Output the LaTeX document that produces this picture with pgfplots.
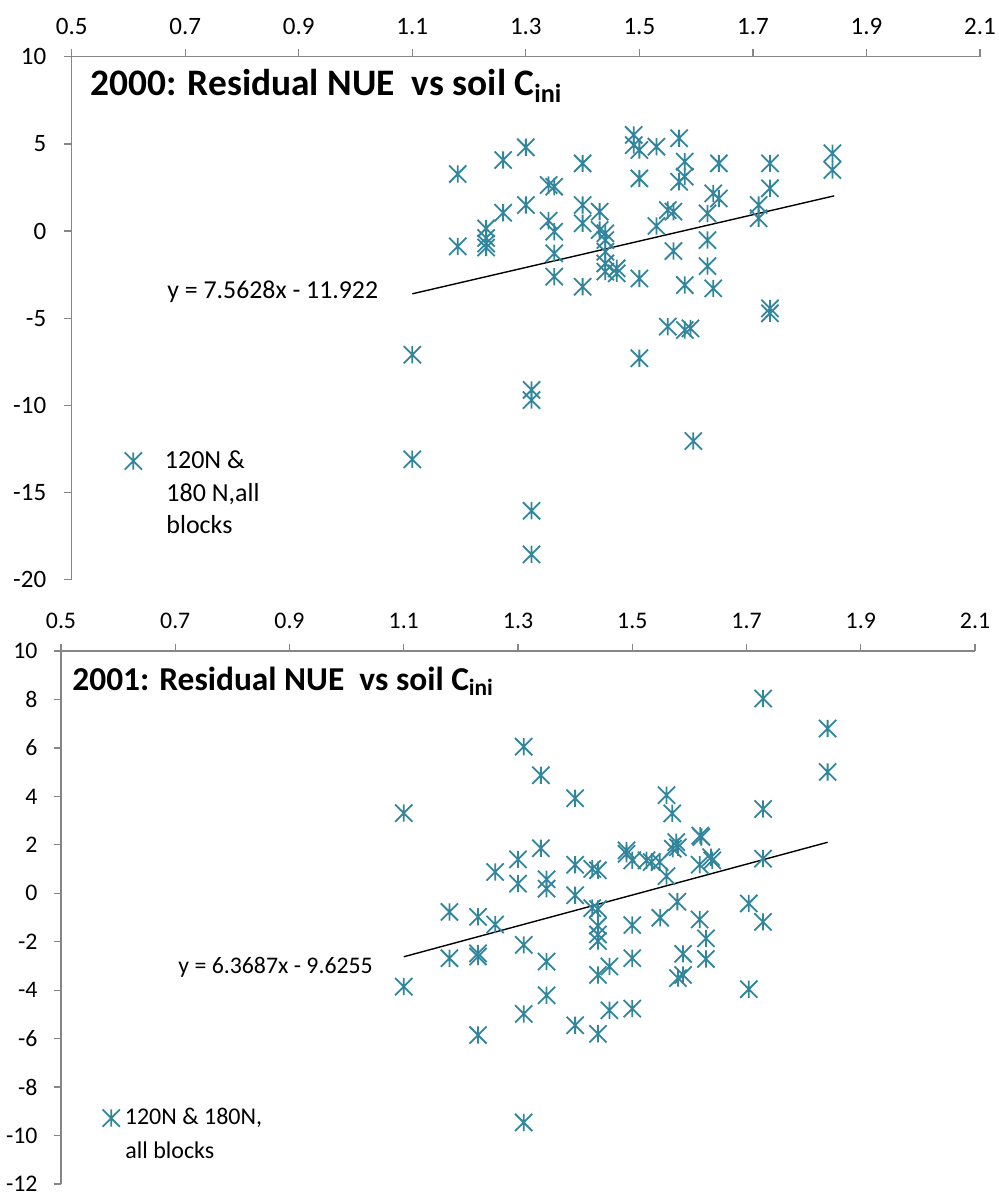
\documentclass[border=0pt]{standalone}
\usepackage{fontspec}
\setmainfont{Carlito}
\usepackage{pgfplots}
\pgfplotsset{compat=1.18}

\definecolor{axisgray}{RGB}{134,134,134}
\definecolor{markteal}{RGB}{49,133,156}

% Excel-style asterisk: an X crossed by a vertical bar
\pgfdeclareplotmark{xast}{%
  \pgfpathmoveto{\pgfqpoint{0pt}{\pgfplotmarksize}}%
  \pgfpathlineto{\pgfqpoint{0pt}{-\pgfplotmarksize}}%
  \pgfpathmoveto{\pgfqpoint{-\pgfplotmarksize}{\pgfplotmarksize}}%
  \pgfpathlineto{\pgfqpoint{\pgfplotmarksize}{-\pgfplotmarksize}}%
  \pgfpathmoveto{\pgfqpoint{-\pgfplotmarksize}{-\pgfplotmarksize}}%
  \pgfpathlineto{\pgfqpoint{\pgfplotmarksize}{\pgfplotmarksize}}%
  \pgfusepathqstroke}

\pgfplotsset{
  excel/.style={
    scale only axis,
    clip=false,
    axis x line*=top,
    axis y line*=left,
    axis line style={draw=axisgray, line width=0.65pt},
    tick style={draw=axisgray, line width=0.65pt},
    tick align=outside,
    major tick length=3.7pt,
    xmin=0.5, xmax=2.1,
    xtick={0.5,0.7,0.9,1.1,1.3,1.5,1.7,1.9,2.1},
    xticklabels={0.5,0.7,0.9,1.1,1.3,1.5,1.7,1.9,2.1},
    xticklabel style={yshift=4pt},
    /pgf/number format/assume math mode=true,
    legend style={draw=none, fill=none, inner sep=0pt, outer sep=0pt,
      nodes={inner sep=0pt}},
    legend image code/.code={%
      \draw[mark=xast, markteal, line width=0.9pt, mark size=4.3pt]
        plot coordinates {(0pt,0pt)};},
  },
  pts/.style={only marks, mark=xast, mark size=4.3pt,
    color=markteal, line width=0.9pt},
  trend/.style={black, line width=0.7pt, no marks},
}

\begin{document}
\begin{tikzpicture}
\path[use as bounding box] (0,0) rectangle (499pt,-598pt);

% ---------------- 2000 ----------------
\begin{axis}[excel,
  at={(35.85pt,-289.8pt)}, anchor=south west,
  width=454.15pt, height=261.45pt,
  ymin=-20, ymax=10,
  ytick={-20,-15,-10,-5,0,5,10},
  yticklabels={-20,-15,-10,-5,0,5,10},
  yticklabel style={xshift=-5.5pt},
  ticklabel style={font=\fontsize{12.5}{15}\selectfont},
  legend style={at={(0.0584,0.2268)}, anchor=west,
    font=\fontsize{13}{15}\selectfont},
]
\addplot[pts] coordinates {
 (1.10,-7.1) (1.10,-13.1)
 (1.18,3.27) (1.18,-0.88)
 (1.23,0.15) (1.23,-0.40) (1.23,-0.72) (1.23,-0.95)
 (1.26,4.07) (1.26,1.05)
 (1.30,4.80) (1.30,1.49)
 (1.31,-9.12) (1.31,-9.70) (1.31,-16.05) (1.31,-18.55)
 (1.34,2.64) (1.35,2.54) (1.34,0.59) (1.35,-0.04) (1.35,-1.28) (1.35,-2.62)
 (1.40,3.88) (1.40,1.49) (1.40,0.44) (1.40,-3.20)
 (1.43,1.11) (1.43,0.06) (1.44,-0.13) (1.44,-0.52) (1.44,-1.19) (1.44,-1.86) (1.44,-2.33)
 (1.46,-2.14) (1.46,-2.43)
 (1.49,5.51) (1.49,4.93) (1.50,4.65) (1.50,3.02) (1.50,-2.72) (1.50,-7.30)
 (1.53,4.84) (1.53,0.29)
 (1.55,1.20) (1.56,1.11) (1.56,-1.15) (1.55,-5.49)
 (1.57,5.32) (1.58,3.98) (1.58,3.12) (1.57,2.83) (1.58,-3.10) (1.58,-5.68) (1.59,-5.59) (1.595,-12.05)
 (1.62,1.01) (1.62,-0.52) (1.62,-2.01) (1.63,2.16) (1.64,1.87) (1.63,-3.29) (1.64,3.88)
 (1.71,1.49) (1.71,0.73)
 (1.73,3.88) (1.73,2.45) (1.73,-4.44) (1.73,-4.72)
 (1.84,4.46) (1.84,3.50)
};
\addlegendentry{\hspace*{11.5pt}120N \&}
% fitted line y = 7.5628x - 11.922
\addplot[trend, forget plot] coordinates {(1.10,-3.6029) (1.843,2.0162)};
\end{axis}

% ---------------- 2001 ----------------
\begin{axis}[excel,
  at={(30.5pt,-592pt)}, anchor=south west,
  width=457pt, height=266.5pt,
  ymin=-12, ymax=10,
  ytick={-12,-10,-8,-6,-4,-2,0,2,4,6,8,10},
  yticklabels={-12,-10,-8,-6,-4,-2,0,2,4,6,8,10},
  yticklabel style={xshift=-4.5pt},
  ticklabel style={font=\fontsize{11.9}{14}\selectfont},
  legend style={at={(0.0456,0.1237)}, anchor=west,
    font=\fontsize{12}{14}\selectfont},
]
\addplot[pts] coordinates {
 (1.10,3.31) (1.10,-3.85)
 (1.18,-0.77) (1.18,-2.68)
 (1.23,-0.97) (1.23,-2.48) (1.23,-2.61) (1.23,-5.85)
 (1.26,0.88) (1.26,-1.29)
 (1.30,1.40) (1.30,0.40)
 (1.31,6.05) (1.31,-2.13) (1.31,-4.98) (1.31,-9.46)
 (1.34,4.87) (1.34,1.86)
 (1.35,0.58) (1.35,0.19) (1.35,-2.82) (1.35,-4.21)
 (1.40,3.92) (1.40,1.18) (1.40,-0.08) (1.40,-5.45)
 (1.43,1.01) (1.44,0.95) (1.43,-0.61) (1.44,-0.65) (1.44,-1.34) (1.44,-1.70) (1.44,-1.97) (1.44,-3.37) (1.44,-5.80)
 (1.46,-3.02) (1.46,-4.83)
 (1.49,1.77) (1.49,1.63) (1.50,1.36) (1.50,-1.31) (1.50,-2.68) (1.50,-4.76)
 (1.525,1.36) (1.534,1.29) (1.548,1.29) (1.549,-1.01)
 (1.56,4.05) (1.57,3.30) (1.56,0.71)
 (1.571,1.84) (1.577,2.11) (1.58,1.90) (1.579,-0.35) (1.589,-2.50) (1.58,-3.50) (1.589,-3.37)
 (1.619,2.38) (1.621,2.32) (1.618,1.18) (1.618,-1.08)
 (1.638,1.49) (1.640,1.36) (1.629,-1.86) (1.629,-2.71)
 (1.704,-0.42) (1.704,-3.96)
 (1.729,8.04) (1.729,3.48) (1.729,1.43) (1.729,-1.18)
 (1.842,6.80) (1.842,5.01)
};
\addlegendentry{\hspace*{2.5pt}120N \& 180N,}
% fitted line y = 6.3687x - 9.6255
\addplot[trend, forget plot] coordinates {(1.10,-2.6199) (1.842,2.1057)};
\end{axis}

% titles, equations and the remaining legend lines
\node[anchor=base west, inner sep=0pt, font=\bfseries\fontsize{18.7}{22}\selectfont]
  at (45pt,-47.85pt) {2000: Residual NUE\ \ vs soil C\textsubscript{ini}};
\node[anchor=base west, inner sep=0pt, font=\bfseries\fontsize{16.7}{20}\selectfont]
  at (36pt,-345.35pt) {2001: Residual NUE\ \ vs soil C\textsubscript{ini}};

\node[anchor=base west, inner sep=0pt, font=\fontsize{12.9}{15}\selectfont]
  at (83.5pt,-149.2pt) {y = 7.5628x - 11.922};
\node[anchor=base west, inner sep=0pt, font=\fontsize{11.9}{14}\selectfont]
  at (89pt,-486.5pt) {y = 6.3687x - 9.6255};

\node[anchor=base west, inner sep=0pt, font=\fontsize{13}{15}\selectfont]
  at (83pt,-250.5pt) {180 N,all};
\node[anchor=base west, inner sep=0pt, font=\fontsize{13}{15}\selectfont]
  at (83pt,-266.5pt) {blocks};
\node[anchor=base west, inner sep=0pt, font=\fontsize{12}{14}\selectfont]
  at (62.5pt,-579.35pt) {all blocks};
\end{tikzpicture}
\end{document}
